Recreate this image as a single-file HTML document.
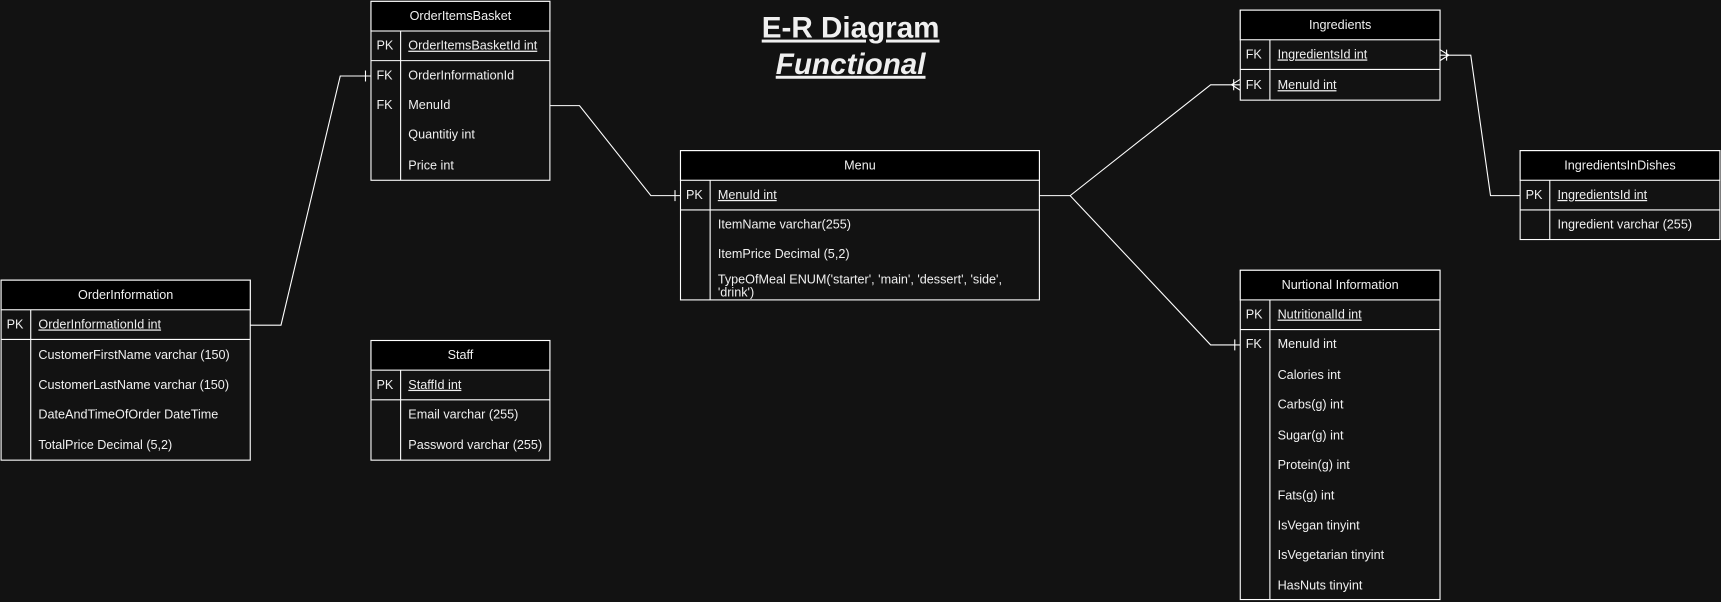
<!DOCTYPE html>
<html><head><meta charset="utf-8"><style>
html,body{margin:0;padding:0;background:#121212;overflow:hidden}
svg{display:block}
text{font-family:"Liberation Sans",Arial,sans-serif;fill:#f0f0f0;font-size:11.5px}
.h{text-anchor:middle}
.u{text-decoration:underline}
</style></head><body>
<svg width="1721" height="602" viewBox="0 0 1568 548" xmlns="http://www.w3.org/2000/svg">
<rect width="1568" height="548" fill="#121212"/>
<g stroke="#fff" stroke-width="1" fill="none">
<polyline points="228,296 256,296 310,69 338,69"/><line x1="333" y1="64" x2="333" y2="74"/>
<polyline points="501,96 528,96 593,178 620,178"/><line x1="615" y1="173" x2="615" y2="183"/>
<polyline points="947,178 975,178 1103,77 1130,77"/>
<line x1="1122" y1="77" x2="1130" y2="72"/><line x1="1122" y1="77" x2="1130" y2="82"/><line x1="1124" y1="72" x2="1124" y2="82"/>
<polyline points="975,178 1103,314 1130,314"/><line x1="1125" y1="309" x2="1125" y2="319"/>
<polyline points="1312,50 1340,50 1358,178 1385,178"/>
<line x1="1320" y1="50" x2="1312" y2="45"/><line x1="1320" y1="50" x2="1312" y2="55"/><line x1="1318" y1="45" x2="1318" y2="55"/>
</g>

<g stroke="#fff" fill="none">
<rect x="338" y="1" width="163" height="163" fill="#121212"/>
<rect x="338" y="1" width="163" height="27" fill="#000"/>
<line x1="338" y1="55" x2="501" y2="55"/><line x1="365" y1="28" x2="365" y2="164"/>
</g>
<text x="419.5" y="18" class="h">OrderItemsBasket</text>
<text x="343" y="45">PK</text><text x="372" y="45" class="u">OrderItemsBasketId int</text>
<text x="343" y="72">FK</text><text x="372" y="72">OrderInformationId</text>
<text x="343" y="99">FK</text><text x="372" y="99">MenuId</text>
<text x="372" y="126">Quantitiy int</text>
<text x="372" y="154">Price int</text>

<g stroke="#fff" fill="none">
<rect x="620" y="137" width="327" height="136" fill="#121212"/>
<rect x="620" y="137" width="327" height="27" fill="#000"/>
<line x1="620" y1="191" x2="947" y2="191"/><line x1="647" y1="164" x2="647" y2="273"/>
</g>
<text x="783.5" y="154" class="h">Menu</text>
<text x="625" y="181">PK</text><text x="654" y="181" class="u">MenuId int</text>
<text x="654" y="208">ItemName varchar(255)</text>
<text x="654" y="235">ItemPrice Decimal (5,2)</text>
<text x="654" y="258">TypeOfMeal ENUM('starter', 'main', 'dessert', 'side',</text>
<text x="654" y="270">'drink')</text>

<g stroke="#fff" fill="none">
<rect x="1" y="255" width="227" height="164" fill="#121212"/>
<rect x="1" y="255" width="227" height="27" fill="#000"/>
<line x1="1" y1="309" x2="228" y2="309"/><line x1="28" y1="282" x2="28" y2="419"/>
</g>
<text x="114.5" y="272" class="h">OrderInformation</text>
<text x="6" y="299">PK</text><text x="35" y="299" class="u">OrderInformationId int</text>
<text x="35" y="327">CustomerFirstName varchar (150)</text>
<text x="35" y="354">CustomerLastName varchar (150)</text>
<text x="35" y="381">DateAndTimeOfOrder DateTime</text>
<text x="35" y="409">TotalPrice Decimal (5,2)</text>

<g stroke="#fff" fill="none">
<rect x="338" y="310" width="163" height="109" fill="#121212"/>
<rect x="338" y="310" width="163" height="27" fill="#000"/>
<line x1="338" y1="364" x2="501" y2="364"/><line x1="365" y1="337" x2="365" y2="419"/>
</g>
<text x="419.5" y="327" class="h">Staff</text>
<text x="343" y="354">PK</text><text x="372" y="354" class="u">StaffId int</text>
<text x="372" y="381">Email varchar (255)</text>
<text x="372" y="409">Password varchar (255)</text>

<g stroke="#fff" fill="none">
<rect x="1130" y="9" width="182" height="82" fill="#121212"/>
<rect x="1130" y="9" width="182" height="27" fill="#000"/>
<line x1="1130" y1="63" x2="1312" y2="63"/><line x1="1157" y1="36" x2="1157" y2="91"/>
</g>
<text x="1221" y="26" class="h">Ingredients</text>
<text x="1135" y="53">FK</text><text x="1164" y="53" class="u">IngredientsId int</text>
<text x="1135" y="81">FK</text><text x="1164" y="81" class="u">MenuId int</text>

<g stroke="#fff" fill="none">
<rect x="1385" y="137" width="182" height="81" fill="#121212"/>
<rect x="1385" y="137" width="182" height="27" fill="#000"/>
<line x1="1385" y1="191" x2="1567" y2="191"/><line x1="1412" y1="164" x2="1412" y2="218"/>
</g>
<text x="1476" y="154" class="h">IngredientsInDishes</text>
<text x="1390" y="181">PK</text><text x="1419" y="181" class="u">IngredientsId int</text>
<text x="1419" y="208">Ingredient varchar (255)</text>

<g stroke="#fff" fill="none">
<rect x="1130" y="246" width="182" height="300" fill="#121212"/>
<rect x="1130" y="246" width="182" height="27" fill="#000"/>
<line x1="1130" y1="300" x2="1312" y2="300"/><line x1="1157" y1="273" x2="1157" y2="546"/>
</g>
<text x="1221" y="263" class="h">Nurtional Information</text>
<text x="1135" y="290">PK</text><text x="1164" y="290" class="u">NutritionalId int</text>
<text x="1135" y="317">FK</text><text x="1164" y="317">MenuId int</text>
<text x="1164" y="345">Calories int</text>
<text x="1164" y="372">Carbs(g) int</text>
<text x="1164" y="400">Sugar(g) int</text>
<text x="1164" y="427">Protein(g) int</text>
<text x="1164" y="455">Fats(g) int</text>
<text x="1164" y="482">IsVegan tinyint</text>
<text x="1164" y="509">IsVegetarian tinyint</text>
<text x="1164" y="537">HasNuts tinyint</text>

<text x="775" y="34" class="h u" style="font-size:27px;font-weight:bold">E-R Diagram</text>
<text x="775" y="67" class="h u" style="font-size:27px;font-weight:bold;font-style:italic">Functional</text>
</svg>
</body></html>
